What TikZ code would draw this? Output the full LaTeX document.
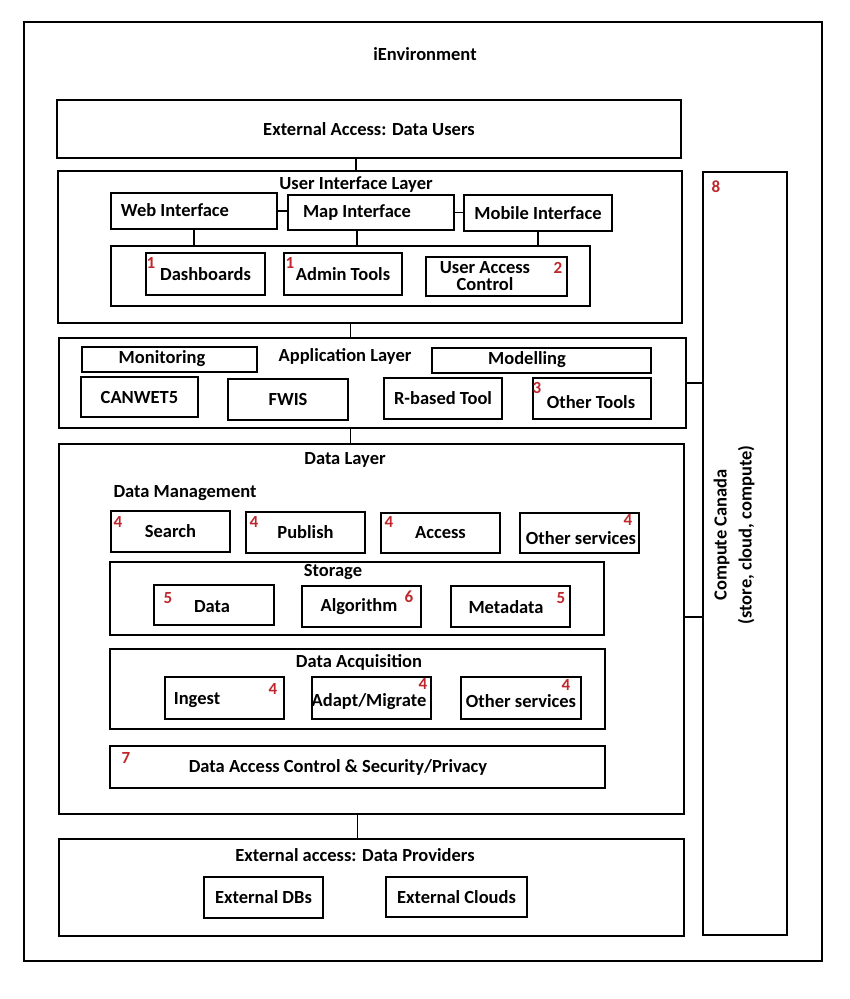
\documentclass[tikz,border=0pt]{standalone}
\usepackage{fontspec}
\setmainfont{Carlito}
\usetikzlibrary{calc}
\definecolor{numred}{RGB}{190,40,45}

\begin{document}
\begin{tikzpicture}[x=1pt, y=-1pt, line width=1.8pt,
    box/.style={draw, line width=2.4pt, inner sep=0pt, align=center,
                font=\fontsize{18.5}{17}\selectfont\bfseries},
    sz/.style 2 args={minimum width=#1, minimum height=#2},
    lbl/.style={inner sep=0pt, align=center, font=\fontsize{18.5}{17}\selectfont\bfseries},
    num/.style={inner sep=0pt, text=numred, font=\fontsize{17}{18}\selectfont\bfseries}]
  \useasboundingbox (0,0) rectangle (850,999);

  % frame
  \node[box, line width=2pt, sz={798}{939}] (env) at (423,491.5) {};
  \node[lbl] (envT) at (425,54) {iEnvironment};

  \node[box, sz={624}{58}] (users) at (369,129) {External Access: Data Users};

  % user interface layer
  \node[box, sz={624}{152}] (ui) at (370,247) {};
  \node[lbl] (uiT) at (356,185) {User Interface Layer};
  \node[box, sz={166}{36}] (web) at (194,211) {};
  \node[lbl] (webT) at (175,210) {Web Interface};
  \node[box, sz={166}{35}] (map) at (371,212.5) {};
  \node[lbl] (mapT) at (357,213) {Map Interface};
  \node[box, sz={148}{36}] (mobile) at (538,213) {Mobile Interface};
  \node[box, sz={479}{60}] (uiin) at (350.5,276) {};
  \node[box, sz={119}{42}] (dash) at (205.5,274) {Dashboards};
  \node[box, sz={118}{42}] (admin) at (343,274) {Admin Tools};
  \node[box, sz={141}{39}] (uac) at (496.5,276.5) {};
  \node[lbl] (uacT) at (485,276) {User Access\\Control};
  \node[num] (n1a) at (151,263) {1};
  \node[num] (n1b) at (290,263) {1};
  \node[num] (n2) at (558,268) {2};

  % application layer
  \node[box, sz={627}{90}] (app) at (372.5,383) {};
  \node[lbl] (appT) at (345,356) {Application Layer};
  \node[box, sz={175}{25}] (mon) at (169.5,359.5) {};
  \node[lbl] (monT) at (162,359) {Monitoring};
  \node[box, sz={219}{25}] (model) at (541.5,360.5) {};
  \node[lbl] (modelT) at (527,360) {Modelling};
  \node[box, sz={117}{40}] (canwet) at (139.5,397) {CANWET5};
  \node[box, sz={120}{41}] (fwis) at (288,399.5) {FWIS};
  \node[box, sz={118}{41}] (rtool) at (443,398.5) {R-based Tool};
  \node[box, sz={118}{41}] (other) at (592,398.5) {};
  \node[lbl] (otherT) at (591,402) {Other Tools};
  \node[num] (n3) at (537,388) {3};

  % data layer
  \node[box, sz={625}{370}] (data) at (371.5,629) {};
  \node[lbl] (dataT) at (345,460) {Data Layer};
  \node[lbl] (mgmtT) at (185,493) {Data Management};
  \node[box, sz={119}{41}] (search) at (170.5,531.5) {Search};
  \node[box, sz={119}{41}] (publish) at (305.5,532.5) {Publish};
  \node[box, sz={119}{40}] (access) at (440.5,533) {Access};
  \node[box, sz={119}{40}] (otherS) at (579.5,533) {};
  \node[lbl] (otherST) at (581,538) {Other services};
  \node[num] (n4a) at (118,522) {4};
  \node[num] (n4b) at (254,522) {4};
  \node[num] (n4c) at (389,522) {4};
  \node[num] (n4d) at (628,520) {4};

  \node[box, sz={494}{73}] (storage) at (357,598.5) {};
  \node[lbl] (storageT) at (333,572) {Storage};
  \node[box, sz={120}{40}] (sdata) at (214,605) {};
  \node[lbl] (sdataT) at (212,607) {Data};
  \node[box, sz={119}{41}] (algo) at (361.5,606.5) {};
  \node[lbl] (algoT) at (359,607) {Algorithm};
  \node[box, sz={119}{41}] (meta) at (510.5,606.5) {};
  \node[lbl] (metaT) at (506,607) {Metadata};
  \node[num] (n5a) at (168,598) {5};
  \node[num] (n6) at (409,597) {6};
  \node[num] (n5b) at (561,598) {5};

  \node[box, sz={495}{80}] (acq) at (357.5,689) {};
  \node[lbl] (acqT) at (359,662) {Data Acquisition};
  \node[box, sz={119}{42}] (ingest) at (224.5,698) {};
  \node[lbl] (ingestT) at (197,700) {Ingest};
  \node[box, sz={119}{42}] (adapt) at (371.5,698) {};
  \node[lbl] (adaptT) at (369,702) {Adapt/Migrate};
  \node[box, sz={120}{42}] (otherA) at (521,698) {};
  \node[lbl] (otherAT) at (521,701) {Other services};
  \node[num] (n4e) at (273,689) {4};
  \node[num] (n4f) at (423,684) {4};
  \node[num] (n4g) at (566,685) {4};

  \node[box, sz={495}{42}] (dac) at (357.5,767) {};
  \node[lbl] (dacT) at (338,767) {Data Access Control \& Security/Privacy};
  \node[num] (n7) at (126,758) {7};

  % providers
  \node[box, sz={625}{97}] (prov) at (371.5,887.5) {};
  \node[lbl] (provT) at (355,855) {External access: Data Providers};
  \node[box, sz={119}{41}] (extdb) at (263.5,897.5) {External DBs};
  \node[box, sz={141}{40}] (extcl) at (456.5,897) {External Clouds};

  % compute canada
  \node[box, sz={84}{763}] (cc) at (745,553.5) {};
  \node[lbl, rotate=90, font=\fontsize{18.5}{25}\selectfont\bfseries] (ccT) at (734,535)
    {Compute Canada\\(store, cloud, compute)};
  \node[num] (n8) at (716,187) {8};

  % connectors
  \draw (users.south -| uiT) -- (ui.north -| uiT);
  \draw (web.east) -- (web.east -| map.west);
  \draw (map.east) -- (map.east -| mobile.west);
  \draw (web.south) -- (web.south |- uiin.north);
  \draw (map.south -| mapT) -- (uiin.north -| mapT);
  \draw (mobile.south) -- (mobile.south |- uiin.north);
  \draw (ui.south -| uiin) -- (app.north -| uiin);
  \draw (app.south -| uiin) -- (data.north -| uiin);
  \draw (app.east) -- (app.east -| cc.west);
  \draw ($(data.east)+(0,-12)$) -- ($(data.east -| cc.west)+(0,-12)$);
  \draw (data.south -| dac) -- (prov.north -| dac);
\end{tikzpicture}
\end{document}
